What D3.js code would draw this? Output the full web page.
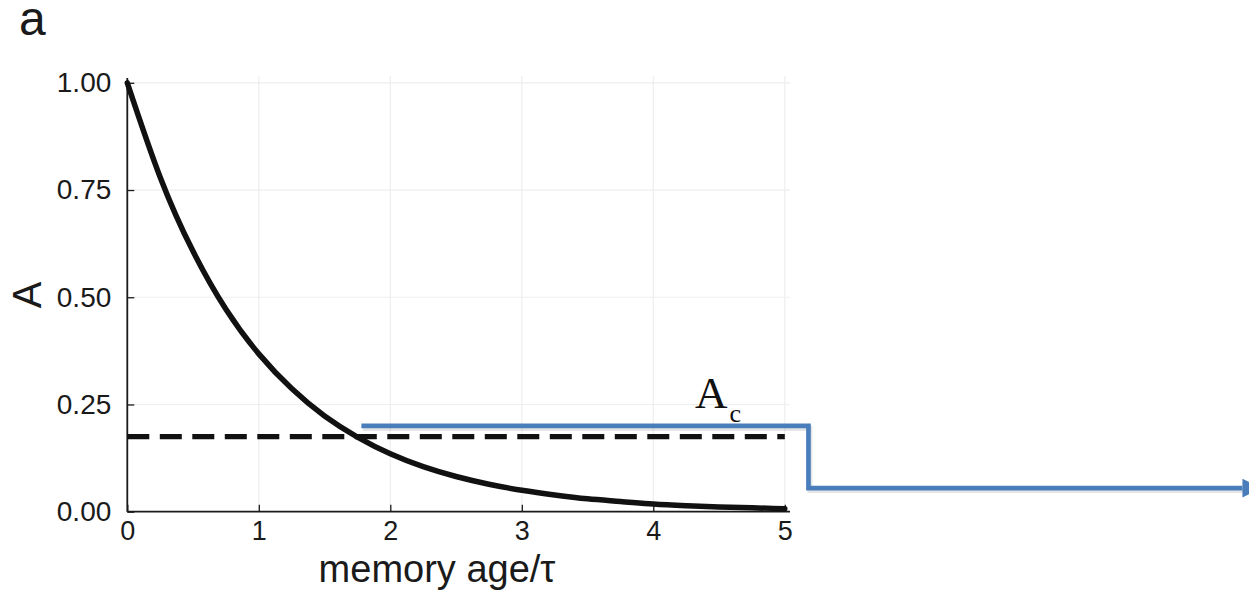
<!DOCTYPE html>
<html>
<head>
<meta charset="utf-8">
<script src="https://cdn.jsdelivr.net/npm/d3@7"></script>
<style>
  body { margin: 0; background: #fff; }
  svg { display: block; }
  .tick text { font-family: "Liberation Sans", Arial, sans-serif; fill: #1a1a1a; }
</style>
</head>
<body>
<script>
var ages = [0, 0.25, 0.5, 0.75, 1, 1.25, 1.5, 1.75, 2, 2.25, 2.5, 2.75, 3, 3.25, 3.5, 3.75, 4, 4.25, 4.5, 4.75, 5];
var activity = [1.00, 0.78, 0.607, 0.472, 0.368, 0.287, 0.223, 0.174, 0.135, 0.105, 0.082, 0.064, 0.05, 0.039, 0.030, 0.024, 0.018, 0.014, 0.011, 0.009, 0.007];
var threshold = 0.175;           // A_c, dashed line
var xTicks = [0, 1, 2, 3, 4, 5];
var yTicks = [0, 0.25, 0.5, 0.75, 1];
// blue step arrow (x in memory age, y in A)
var arrowX = [1.78, 5.18, 5.18, 8.48];
var arrowY = [0.20, 0.20, 0.055, 0.055];

var W = 1249, H = 593;
var x = d3.scaleLinear().domain([0, 5]).range([127.3, 784.8]);
var y = d3.scaleLinear().domain([0, 1]).range([511.7, 82.8]);

var svg = d3.select("body").append("svg").attr("width", W).attr("height", H);

// grid
svg.append("g").selectAll("line.gx").data(xTicks.slice(1)).enter().append("line")
    .attr("x1", function (d) { return x(d); }).attr("x2", function (d) { return x(d); })
    .attr("y1", 76).attr("y2", y(0))
    .attr("stroke", "#eeeeee").attr("stroke-width", 1.2);
svg.append("g").selectAll("line.gy").data(yTicks.slice(1)).enter().append("line")
    .attr("x1", x(0)).attr("x2", 790)
    .attr("y1", function (d) { return y(d); }).attr("y2", function (d) { return y(d); })
    .attr("stroke", "#eeeeee").attr("stroke-width", 1.2);

// axes
var xAxis = d3.axisBottom(x).tickValues(xTicks).tickFormat(d3.format("d")).tickSizeInner(-7).tickSizeOuter(0).tickPadding(9);
var yAxis = d3.axisLeft(y).tickValues(yTicks).tickFormat(d3.format(".2f")).tickSizeInner(-7).tickSizeOuter(0).tickPadding(16);

var gx = svg.append("g").attr("transform", "translate(0," + y(0) + ")").call(xAxis);
gx.select(".domain").attr("d", "M" + x(0) + ",0H790").attr("stroke", "#1a1a1a").attr("stroke-width", 1.8);
gx.selectAll(".tick line").attr("stroke", "#1a1a1a").attr("stroke-width", 1.3);
gx.selectAll(".tick text").attr("font-size", 27);

var gy = svg.append("g").attr("transform", "translate(" + x(0) + ",0)").call(yAxis);
gy.select(".domain").attr("d", "M0,78V" + y(0)).attr("stroke", "#1a1a1a").attr("stroke-width", 1.8);
gy.selectAll(".tick line").attr("stroke", "#1a1a1a").attr("stroke-width", 1.3);
gy.selectAll(".tick text").attr("font-size", 28);

// axis titles
svg.append("text")
    .attr("x", 437).attr("y", 582)
    .attr("text-anchor", "middle")
    .attr("font-family", "Liberation Sans, Arial, sans-serif")
    .attr("font-size", 38).attr("fill", "#1a1a1a")
    .text("memory age/τ");

svg.append("text")
    .attr("transform", "translate(41,295) rotate(-90)")
    .attr("text-anchor", "middle")
    .attr("font-family", "Liberation Sans, Arial, sans-serif")
    .attr("font-size", 40).attr("fill", "#1a1a1a")
    .text("A");

svg.append("text")
    .attr("x", 19).attr("y", 35)
    .attr("font-family", "Liberation Sans, Arial, sans-serif")
    .attr("font-size", 48).attr("fill", "#1a1a1a")
    .text("a");

// threshold dashed line
svg.append("line")
    .attr("x1", x(0)).attr("x2", x(5))
    .attr("y1", y(threshold)).attr("y2", y(threshold))
    .attr("stroke", "#111").attr("stroke-width", 5.3)
    .attr("stroke-dasharray", "22,10.5");

// decay curve
var line = d3.line()
    .x(function (d, i) { return x(ages[i]); })
    .y(function (d) { return y(d); })
    .curve(d3.curveNatural);

svg.append("path")
    .datum(activity)
    .attr("d", line)
    .attr("fill", "none")
    .attr("stroke", "#111")
    .attr("stroke-width", 5.5)
    .attr("stroke-linecap", "round");

// blue step arrow
var defs = svg.append("defs");
defs.append("marker")
    .attr("id", "head")
    .attr("viewBox", "0 0 10 10")
    .attr("refX", 0).attr("refY", 5)
    .attr("markerWidth", 4).attr("markerHeight", 4)
    .attr("markerUnits", "strokeWidth")
    .attr("orient", "auto")
    .append("path").attr("d", "M0,0L10,5L0,10Z").attr("fill", "#4a7ebb");

var stepPts = arrowX.map(function (d, i) { return [x(d), y(arrowY[i])]; });
var stepLine = d3.line();

svg.append("path")
    .attr("d", stepLine(stepPts))
    .attr("transform", "translate(1.5,2.5)")
    .attr("fill", "none").attr("stroke", "#000").attr("stroke-opacity", 0.1)
    .attr("stroke-width", 5);

svg.append("path")
    .attr("d", stepLine(stepPts))
    .attr("fill", "none")
    .attr("stroke", "#4a7ebb")
    .attr("stroke-width", 4.7)
    .attr("marker-end", "url(#head)");

// A_c label
var lab = svg.append("text")
    .attr("x", 695).attr("y", 408)
    .attr("font-family", "Liberation Serif, Times New Roman, serif")
    .attr("fill", "#111");
lab.append("tspan").attr("font-size", 45).text("A");
lab.append("tspan").attr("font-size", 26).attr("dx", 2).attr("dy", 14).text("c");
</script>
</body>
</html>
